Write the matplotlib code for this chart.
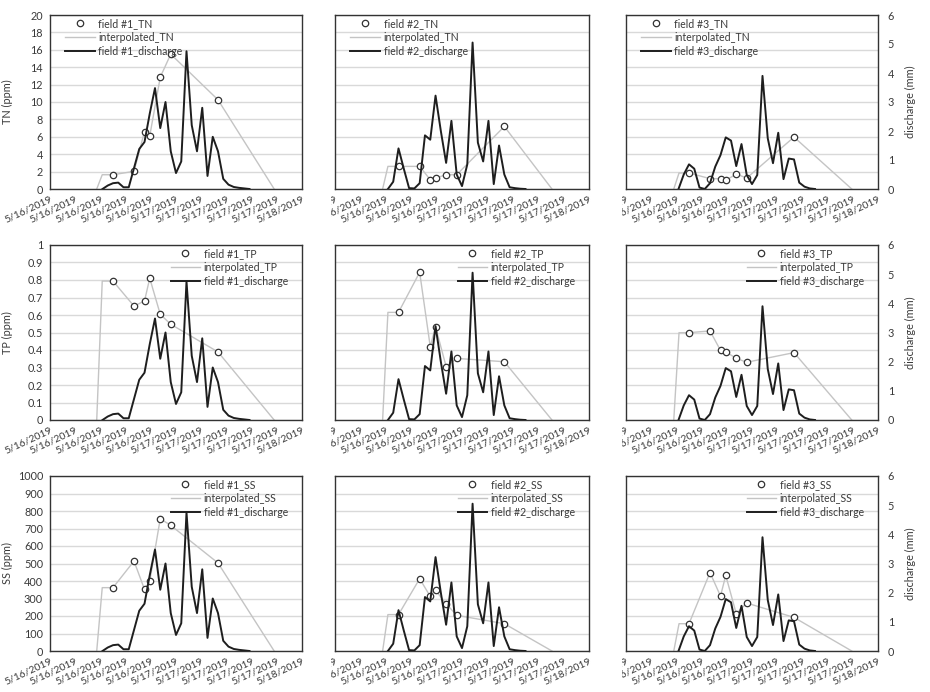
import numpy as np
import matplotlib
matplotlib.use("Agg")
import matplotlib.pyplot as plt
from matplotlib.lines import Line2D
from matplotlib.transforms import Bbox, TransformedBbox

plt.rcParams['font.family'] = ['Lato', 'DejaVu Sans']

# ---------------- data ----------------
tick_days = [0.0, 0.2, 0.4, 0.6, 0.8, 1.0, 1.2, 1.4, 1.6, 1.8, 2.0]
tick_labels = ['5/16/2019'] * 5 + ['5/17/2019'] * 5 + ['5/18/2019']

# hourly discharge (mm), hours counted from 5/16/2019 00:00
f1_q_hours = list(range(10, 39))
f1_discharge = [0, 0.12, 0.2, 0.22, 0.06, 0.06, 0.72, 1.38, 1.62, 2.6, 3.48, 2.1,
                3.0, 1.3, 0.55, 0.95, 4.75, 2.2, 1.3, 2.8, 0.45, 1.8, 1.3, 0.35,
                0.15, 0.07, 0.04, 0.02, 0.0]
f2_q_hours = list(range(10, 37))
f2_discharge = [0, 0.25, 1.4, 0.7, 0.03, 0.02, 0.2, 1.85, 1.7, 3.22, 2.0, 0.9,
                2.35, 0.5, 0.1, 0.85, 5.05, 1.6, 0.95, 2.35, 0.17, 1.5, 0.5, 0.06,
                0.03, 0.01, 0.0]
f3_q_hours = list(range(10, 37))
f3_discharge = [0, 0.5, 0.85, 0.7, 0.05, 0.0, 0.2, 0.77, 1.17, 1.78, 1.67, 0.79,
                1.55, 0.48, 0.17, 0.48, 3.9, 1.75, 0.89, 1.94, 0.34, 1.05, 1.02,
                0.22, 0.08, 0.02, 0.0]

# sampling hours (same for each field)
sample_hours = [12, 16, 18, 19, 21, 23, 32]

f1_TN = [1.64, 2.03, 6.6, 6.1, 12.85, 15.5, 10.25]
f2_TN = [2.6, 2.6, 1.07, 1.26, 1.64, 1.64, 7.19]
f3_TN = [1.84, 1.19, 1.19, 0.99, 1.72, 1.26, 5.97]

f1_TP = [0.794, 0.651, 0.68, 0.81, 0.604, 0.547, 0.389]
f2_TP = [0.615, 0.844, 0.419, 0.533, 0.305, 0.352, 0.333]
f3_TP = [0.499, 0.509, 0.398, 0.39, 0.352, 0.33, 0.385]

f1_SS = [362, 514, 352, 400, 756, 718, 503]
f2_SS = [208, 413, 312, 347, 270, 204, 156]
f3_SS = [156, 448, 314, 432, 213, 274, 192]

# interpolation envelope: zero at start, first value at rise, zero at end (hours)
interp_start_hour = [8.9, 9.0, 9.1]
interp_rise_hour = [9.95, 10.0, 10.1]
interp_end_hour = [42.7, 41.0, 43.0]

params = ['TN', 'TP', 'SS']
param_ymax = [20, 1.0, 1000]
param_step = [2, 0.1, 100]
param_vals = {
    'TN': [f1_TN, f2_TN, f3_TN],
    'TP': [f1_TP, f2_TP, f3_TP],
    'SS': [f1_SS, f2_SS, f3_SS],
}
q_hours = [f1_q_hours, f2_q_hours, f3_q_hours]
q_vals = [f1_discharge, f2_discharge, f3_discharge]

# ---------------- layout ----------------
W, H = 930, 692
fig = plt.figure(figsize=(W / 100, H / 100), dpi=100)
fig.patch.set_facecolor('white')

cols = [(50, 302), (335, 589), (626, 878)]
rows = [(15, 189), (245, 420), (476, 651)]
clip_left = [0, 331, 622]

frame_col = '#333333'
text_col = '#3a3a3a'
grid_col = '#d9d9d9'
interp_col = '#c4c4c4'
q_col = '#1e1e1e'
fs = 7.8
xfs = 7.5
lfs = 7.6


def fmt_tp(v):
    s = f'{v:.1f}'
    if s.endswith('.0'):
        s = s[:-2]
    return s


for r, p in enumerate(params):
    ymax = param_ymax[r]
    step = param_step[r]
    yt = [round(i * step, 3) for i in range(11)]
    for c in range(3):
        l, rr = cols[c]
        t, b = rows[r]
        ax = fig.add_axes([l / W, 1 - b / H, (rr - l) / W, (b - t) / H])
        ax2 = ax.twinx()

        vals = param_vals[p][c]
        sx = [h / 24 for h in sample_hours]
        ix = [interp_start_hour[c] / 24, interp_rise_hour[c] / 24] + sx + [interp_end_hour[c] / 24]
        iy = [0, vals[0]] + list(vals) + [0]
        ax.plot(ix, iy, color=interp_col, lw=1.0, zorder=2)
        ax.plot(sx, vals, ls='none', marker='o', ms=4.6, mfc='white', mec='#333333',
                mew=0.9, zorder=4)

        qx = [h / 24 for h in q_hours[c]]
        ax2.plot(qx, q_vals[c], color=q_col, lw=1.4, zorder=3)

        ax.set_xlim(0, 2)
        ax.set_ylim(0, ymax)
        ax2.set_ylim(0, 6)
        ax.set_yticks(yt)
        ax2.set_yticks(range(7))
        ax.set_xticks(tick_days)
        ax.set_xticklabels(tick_labels, rotation=25, ha='right', rotation_mode='anchor')
        ax.yaxis.grid(True, color=grid_col, lw=1.0)
        ax.set_axisbelow(True)
        ax.tick_params(axis='both', length=0, labelsize=fs, labelcolor=text_col)
        ax.tick_params(axis='x', pad=4, labelsize=xfs)
        ax.tick_params(axis='y', pad=5)
        ax2.tick_params(axis='y', length=0, labelsize=fs, labelcolor=text_col, pad=7)

        for s in ax.spines.values():
            s.set_color(frame_col)
            s.set_linewidth(1.0)
        for s in ax2.spines.values():
            s.set_visible(False)

        if c == 0:
            if p == 'TP':
                ax.set_yticklabels([fmt_tp(v) for v in yt])
            else:
                ax.set_yticklabels([str(int(v)) for v in yt])
            ax.set_ylabel(f'{p} (ppm)', fontsize=fs, color=text_col)
            ax.yaxis.set_label_coords(-37 / (rr - l), 0.5)
        else:
            ax.set_yticklabels([])
        if c == 2:
            ax2.set_ylabel('discharge (mm)', fontsize=fs, color=text_col)
            ax2.yaxis.set_label_coords(1 + 27 / (rr - l), 0.5)
        else:
            ax2.set_yticklabels([])

        if clip_left[c] > 0:
            cb = TransformedBbox(Bbox([[clip_left[c] / W, 0], [1, 1]]), fig.transFigure)
            for lab in ax.get_xticklabels():
                lab.set_clip_box(cb)
                lab.set_clip_on(True)

        handles = [
            Line2D([], [], ls='none', marker='o', ms=4.6, mfc='white', mec='#333333', mew=0.9),
            Line2D([], [], color=interp_col, lw=1.0),
            Line2D([], [], color=q_col, lw=1.4),
        ]
        labels = [f'field #{c + 1}_{p}', f'interpolated_{p}', f'field #{c + 1}_discharge']
        if r == 0:
            leg = ax2.legend(handles, labels, loc='upper left', bbox_to_anchor=(0.05, 1.0),
                             frameon=False, fontsize=lfs, handlelength=2.8,
                             handletextpad=0.35, labelspacing=0.28, borderpad=0.25,
                             borderaxespad=0)
        else:
            leg = ax2.legend(handles, labels, loc='upper right', bbox_to_anchor=(0.955, 1.0),
                             frameon=False, fontsize=lfs, handlelength=2.8,
                             handletextpad=0.35, labelspacing=0.28, borderpad=0.25,
                             borderaxespad=0)
        for tx in leg.get_texts():
            tx.set_color(text_col)

fig.savefig('out.png', dpi=100, facecolor='white')
